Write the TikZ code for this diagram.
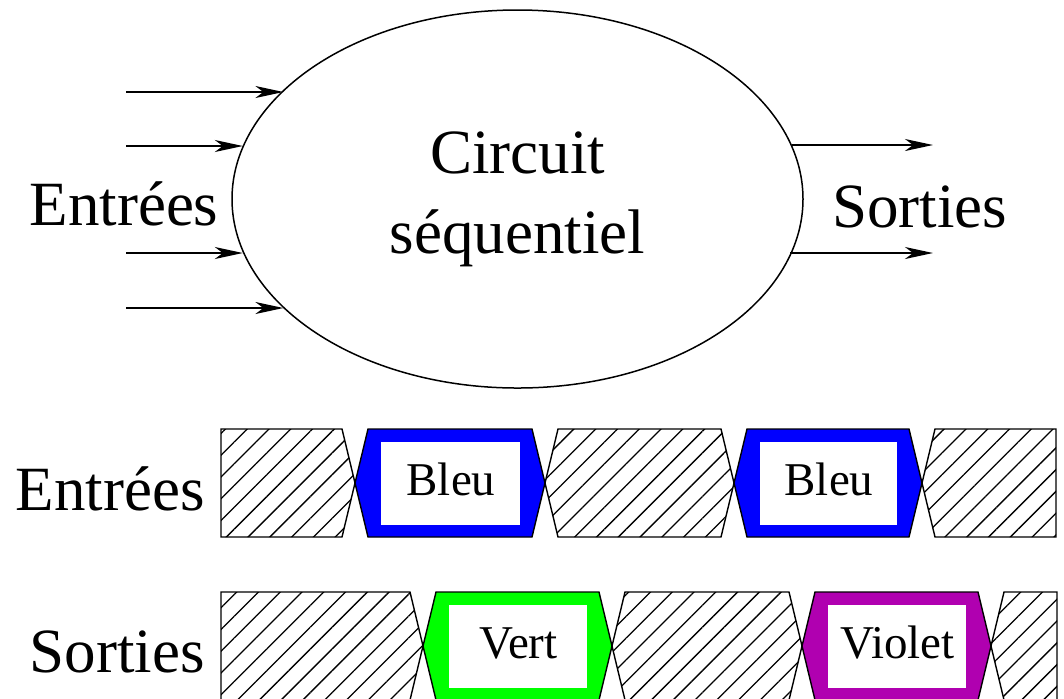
\documentclass[tikz,border=0pt]{standalone}
\usepackage{fontspec}
\setmainfont{Liberation Serif}
\usepackage{tikz}
\usetikzlibrary{arrows.meta,shapes.geometric,patterns.meta}
\definecolor{sigblue}{RGB}{0,0,255}
\definecolor{siggreen}{RGB}{0,255,0}
\definecolor{sigviolet}{RGB}{176,0,176}
\newcommand{\bigtxt}{\fontsize{31.5}{40}\selectfont}
\newcommand{\valtxt}{\fontsize{23.5}{28}\selectfont}
\tikzset{
  >={Stealth[length=14pt,width=6pt,inset=4pt]},
  wire/.style={->, line width=0.9pt},
  circ/.style={draw, ellipse, line width=0.75pt, inner sep=0pt, align=center, font=\bigtxt},
  lbl/.style={inner sep=0pt, font=\bigtxt, anchor=base},
  val/.style={inner sep=0pt, font=\valtxt, anchor=base},
  hatch/.style={draw, line width=0.7pt, pattern={Lines[angle=45,distance=7.7pt,line width=0.65pt]}},
  cell/.style={draw, line width=0.7pt},
}
% one value cell between transitions #1 and #2, row from #3 (top) to #4 (bottom)
\newcommand{\valcell}[7]{%
  \draw[cell, fill=#5] (#1,{(#3+#4)/2}) -- ({#1+13},#3) -- ({#2-13},#3) -- (#2,{(#3+#4)/2})
    -- ({#2-13},#4) -- ({#1+13},#4) -- cycle;
  \fill[white] ({#1+26},{#3+13}) rectangle ({#2-25},{#4-12});
  \node[val] (#6) at ({(#1+#2)/2+1},{(#3+#4)/2+12}) {#7};
}
% don't-care cell, slanted on both sides
\newcommand{\anycell}[4]{%
  \draw[hatch] (#1,{(#3+#4)/2}) -- ({#1+13},#3) -- ({#2-13},#3) -- (#2,{(#3+#4)/2})
    -- ({#2-13},#4) -- ({#1+13},#4) -- cycle;
}

\begin{document}
\begin{tikzpicture}[x=0.5pt,y=-0.5pt]
  \useasboundingbox (0,0) rectangle (1064,698);
  % the circuit
  \node[circ, minimum width=285.5pt, minimum height=189pt] (circ) at (517.5,199) {Circuit\\s\'equentiel};
  \node[lbl] (inlbl)  at (124,225)   {Entr\'ees};
  \node[lbl] (outlbl) at (919.5,227) {Sorties};
  \foreach \y/\a in {92/155.57,146/169.05,253/191.17,308/205.05} {
    \coordinate (in\y) at (126,\y);
    \draw[wire] (in\y) -- (in\y -| circ.\a);
  }
  \foreach \y/\a in {145/11.17,253/348.83} {
    \coordinate (out\y) at (933,\y);
    \draw[wire] (out\y -| circ.\a) -- (out\y);
  }
  % chronogram: inputs
  \node[lbl, anchor=base east] (inrow) at (205,510) {Entr\'ees};
  \draw[hatch] (221,429) -- (342,429) -- (355,483) -- (342,537) -- (221,537) -- cycle;
  \valcell{355}{545}{429}{537}{sigblue}{bleu1}{Bleu}
  \anycell{545}{734}{429}{537}
  \valcell{734}{922}{429}{537}{sigblue}{bleu2}{Bleu}
  \draw[hatch] (922,483) -- (935,429) -- (1056,429) -- (1056,537) -- (935,537) -- cycle;
  % chronogram: outputs
  \node[lbl, anchor=base east] (outrow) at (205,672) {Sorties};
  \draw[hatch] (221,592) -- (410,592) -- (423,646) -- (410,700) -- (221,700) -- cycle;
  \valcell{423}{612}{592}{700}{siggreen}{vert}{Vert}
  \anycell{612}{802}{592}{700}
  \valcell{802}{991}{592}{700}{sigviolet}{violet}{Violet}
  \draw[hatch] (991,646) -- (1004,592) -- (1057,592) -- (1057,700) -- (1004,700) -- cycle;
\end{tikzpicture}
\end{document}
